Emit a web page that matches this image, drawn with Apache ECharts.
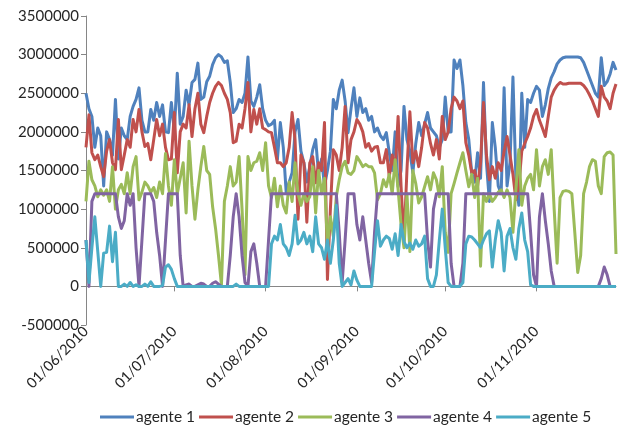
<!DOCTYPE html>
<html>
<head>
<meta charset="utf-8">
<script src="https://cdn.jsdelivr.net/npm/echarts@6/dist/echarts.min.js"></script>
<style>
html, body { margin: 0; padding: 0; background: #fff; }
#main { width: 619px; height: 429px; }
</style>
</head>
<body>
<div id="main"></div>
<script>
// one value per day, 01/06/2010 .. 28/11/2010
const firstDay = [2010, 5, 1]
const dayCount = 181

const seriesNames = ['agente 1', 'agente 2', 'agente 3', 'agente 4', 'agente 5']
const colors = ['#4F81BD', '#C0504D', '#9BBB59', '#8064A2', '#4BACC6']

const agente1 = [
    2500000, 2300000, 2200000, 1800000, 2050000, 1950000, 1300000, 2000000, 1900000, 1700000,
    2420000, 1650000, 2050000, 1950000, 1900000, 2200000, 2330000, 2420000, 2570000, 2150000,
    2000000, 2000000, 2290000, 2150000, 2380000, 2200000, 2350000, 2000000, 1990000, 2380000,
    2000000, 2760000, 2100000, 2200000, 2540000, 2350000, 2640000, 2680000, 2890000, 2420000,
    2450000, 2650000, 2720000, 2870000, 2960000, 3000000, 2970000, 2900000, 2920000, 2640000,
    2250000, 2300000, 2420000, 2380000, 2500000, 2970000, 2400000, 2330000, 2450000, 2610000,
    2300000, 2150000, 2080000, 2100000, 2150000, 1640000, 2120000, 1800000, 1210000, 1350000,
    1470000, 2000000, 2160000, 1750000, 1600000, 1350000, 1550000, 1770000, 1900000, 1450000,
    1650000, 1300000, 1500000, 1750000, 2420000, 2300000, 2540000, 2670000, 2400000, 1990000,
    2300000, 2570000, 2200000, 2440000, 2250000, 2300000, 2150000, 2200000, 2000000, 2050000,
    1950000, 1900000, 1990000, 1730000, 1500000, 2000000, 1290000, 1500000, 2330000, 1900000,
    1750000, 1470000, 1850000, 2120000, 1950000, 2100000, 2250000, 2050000, 2000000, 1950000,
    1800000, 1900000, 2450000, 2000000, 2000000, 2930000, 2820000, 2930000, 2600000, 2120000,
    1900000, 1470000, 1350000, 1730000, 1400000, 2640000, 1600000, 1100000, 2120000, 1800000,
    1300000, 1200000, 2570000, 1300000, 1600000, 2710000, 1400000, 1050000, 2500000, 1800000,
    2420000, 2380000, 2500000, 2590000, 2540000, 2200000, 2350000, 2560000, 2700000, 2780000,
    2880000, 2930000, 2960000, 2970000, 2970000, 2970000, 2970000, 2970000, 2960000, 2900000,
    2800000, 2700000, 2600000, 2500000, 2450000, 2960000, 2600000, 2650000, 2750000, 2900000,
    2800000
]
const agente2 = [
    1800000, 2220000, 1730000, 1640000, 1700000, 1550000, 1420000, 1750000, 1900000, 1600000,
    1510000, 2160000, 1510000, 1700000, 1900000, 1800000, 2160000, 2000000, 2290000, 2000000,
    1810000, 1850000, 1640000, 1900000, 2160000, 1950000, 2100000, 1800000, 1640000, 1650000,
    2250000, 1470000, 2000000, 2100000, 2050000, 2350000, 1940000, 2300000, 2500000, 2100000,
    1990000, 2200000, 2380000, 2500000, 2590000, 2640000, 2600000, 2500000, 2420000, 2250000,
    1860000, 1880000, 2100000, 2050000, 2300000, 2640000, 2000000, 2290000, 2100000, 2300000,
    2050000, 2030000, 2000000, 1990000, 1800000, 1600000, 1600000, 1550000, 1600000, 1800000,
    2250000, 1900000, 870000, 1700000, 1600000, 830000, 1600000, 1680000, 1340000, 1600000,
    1500000, 2120000, 90000, 1000000, 1770000, 1700000, 1500000, 1800000, 2330000, 1600000,
    1900000, 2000000, 2160000, 2100000, 2000000, 1800000, 1850000, 1750000, 1800000, 1810000,
    1600000, 1600000, 1770000, 1420000, 1700000, 1500000, 2200000, 1300000, 600000, 1500000,
    2260000, 1600000, 1750000, 1550000, 1800000, 2120000, 2050000, 1850000, 1700000, 1900000,
    1650000, 2200000, 1900000, 2000000, 2300000, 2450000, 2400000, 2300000, 2400000, 1860000,
    1700000, 1470000, 1500000, 1300000, 1600000, 2380000, 1700000, 1380000, 1550000, 1400000,
    1600000, 1500000, 1750000, 1940000, 1700000, 1450000, 1120000, 1300000, 1750000, 1850000,
    1940000, 2050000, 2200000, 2290000, 2150000, 2050000, 1940000, 2200000, 2450000, 2540000,
    2600000, 2640000, 2620000, 2620000, 2630000, 2630000, 2630000, 2630000, 2630000, 2600000,
    2550000, 2480000, 2400000, 2300000, 2200000, 2590000, 2450000, 2400000, 2300000, 2500000,
    2620000
]
const agente3 = [
    1100000, 1620000, 1380000, 1300000, 1160000, 1250000, 1180000, 1250000, 1100000, 1550000,
    1000000, 1250000, 1320000, 1200000, 1470000, 1200000, 1550000, 1680000, 1120000, 1220000,
    1350000, 1300000, 1220000, 1280000, 1150000, 1350000, 1200000, 1720000, 1300000, 1050000,
    1640000, 1200000, 1400000, 1600000, 950000, 1880000, 1300000, 870000, 1250000, 1550000,
    1810000, 1500000, 1450000, 1030000, 750000, 400000, 20000, 1100000, 1300000, 1550000,
    1300000, 1350000, 1680000, 1000000, 150000, 1680000, 1500000, 1600000, 1620000, 1730000,
    1500000, 1860000, 1300000, 1150000, 1400000, 1030000, 1300000, 1050000, 950000, 1350000,
    1100000, 1600000, 1200000, 1050000, 1200000, 1100000, 1160000, 1550000, 950000, 1500000,
    1200000, 1400000, 520000, 900000, 650000, 1160000, 1380000, 1550000, 1620000, 1470000,
    1450000, 1500000, 1680000, 1620000, 1550000, 1580000, 1550000, 1550000, 1470000, 1120000,
    1200000, 1380000, 1290000, 1450000, 1200000, 1640000, 1250000, 800000, 500000, 1200000,
    450000, 1500000, 1330000, 1080000, 1160000, 1290000, 1420000, 1250000, 1470000, 1380000,
    1160000, 1550000, 700000, 440000, 1200000, 1330000, 1470000, 1600000, 1730000, 1500000,
    1290000, 1450000, 1150000, 1400000, 260000, 1200000, 1100000, 1200000, 1100000, 1150000,
    1220000, 1250000, 1150000, 1250000, 1150000, 700000, 1250000, 1770000, 1050000, 1300000,
    1400000, 1450000, 1250000, 1770000, 1300000, 1550000, 1640000, 1450000, 1770000, 1000000,
    300000, 1150000, 1230000, 1240000, 1230000, 1200000, 700000, 180000, 400000, 1200000,
    1350000, 1550000, 1640000, 1620000, 1300000, 1200000, 1680000, 1730000, 1740000, 1700000,
    420000
]
const agente4 = [
    600000, 0, 1100000, 1200000, 1200000, 1200000, 1200000, 1200000, 1200000, 1200000,
    1200000, 900000, 750000, 850000, 1200000, 1050000, 1200000, 500000, 0, 600000,
    1200000, 1200000, 1200000, 1100000, 700000, 400000, 0, 600000, 1200000, 1200000,
    1200000, 1200000, 400000, 0, 20000, 30000, 0, 0, 20000, 40000,
    30000, 0, 0, 40000, 60000, 30000, 0, 0, 0, 400000,
    900000, 1200000, 900000, 400000, 50000, 0, 450000, 550000, 300000, 0,
    0, 0, 600000, 1200000, 1200000, 1200000, 1200000, 1200000, 1200000, 1200000,
    1200000, 1200000, 1200000, 1200000, 1200000, 1200000, 1200000, 1200000, 1200000, 1200000,
    1200000, 1200000, 1200000, 1200000, 1200000, 1200000, 700000, 50000, 600000, 1200000,
    1200000, 1200000, 800000, 600000, 900000, 600000, 300000, 50000, 700000, 1200000,
    1200000, 1200000, 1200000, 1200000, 1200000, 1200000, 1200000, 1200000, 1200000, 1200000,
    1200000, 1200000, 1200000, 1200000, 1200000, 1200000, 600000, 250000, 1000000, 1200000,
    1200000, 1200000, 1200000, 1200000, 300000, 0, 0, 0, 300000, 1200000,
    1200000, 1200000, 1200000, 1200000, 1200000, 1200000, 1200000, 1200000, 1200000, 1200000,
    1200000, 1200000, 1200000, 1200000, 1200000, 1200000, 1200000, 1200000, 1200000, 1200000,
    1200000, 700000, 150000, 0, 900000, 1200000, 850000, 550000, 200000, 0,
    0, 0, 0, 0, 0, 0, 0, 0, 0, 0,
    0, 0, 0, 0, 0, 100000, 250000, 150000, 0, 0,
    0
]
const agente5 = [
    600000, 50000, 500000, 900000, 450000, 0, 430000, 440000, 780000, 320000,
    700000, 0, 0, 30000, 0, 50000, 0, 20000, 0, 0,
    30000, 0, 60000, 0, 0, 0, 10000, 250000, 280000, 220000,
    100000, 0, 0, 0, 0, 0, 0, 0, 0, 0,
    0, 0, 0, 0, 0, 0, 0, 0, 0, 0,
    0, 30000, 0, 0, 0, 0, 0, 0, 0, 0,
    0, 0, 0, 550000, 650000, 600000, 800000, 550000, 500000, 400000,
    550000, 920000, 550000, 600000, 700000, 550000, 650000, 450000, 900000, 550000,
    500000, 350000, 600000, 300000, 600000, 1050000, 300000, 0, 50000, 100000,
    20000, 200000, 80000, 0, 0, 0, 0, 0, 450000, 850000,
    520000, 600000, 650000, 620000, 480000, 680000, 400000, 800000, 580000, 500000,
    560000, 480000, 600000, 520000, 550000, 650000, 100000, 0, 0, 150000,
    600000, 1000000, 500000, 50000, 0, 0, 0, 0, 50000, 550000,
    650000, 640000, 600000, 550000, 500000, 600000, 680000, 720000, 250000, 600000,
    850000, 700000, 200000, 650000, 750000, 500000, 350000, 750000, 950000, 600000,
    450000, 20000, 0, 0, 0, 0, 0, 0, 0, 0,
    0, 0, 0, 0, 0, 0, 0, 0, 0, 0,
    0, 0, 0, 0, 0, 0, 0, 0, 0, 0,
    0
]
const seriesValues = [agente1, agente2, agente3, agente4, agente5]

const yMin = -500000
const yMax = 3500000
const yStep = 500000

const pad = n => (n < 10 ? '0' : '') + n
const dates = []
for (let i = 0; i < dayCount; i++) {
    const d = new Date(firstDay[0], firstDay[1], firstDay[2] + i)
    dates.push(pad(d.getDate()) + '/' + pad(d.getMonth() + 1) + '/' + d.getFullYear())
}
const monthStart = (idx, val) => val.slice(0, 3) === '01/'

const textColor = '#262626'
const axisGray = '#868686'
const font = 'Lato'

const chart = echarts.init(document.getElementById('main'), null, { renderer: 'canvas' })

chart.setOption({
    animation: false,
    backgroundColor: '#fff',
    color: colors,
    grid: { left: 86, right: 3, top: 16, bottom: 104, containLabel: false },
    legend: {
        data: seriesNames,
        left: 100,
        bottom: 4,
        padding: 0,
        icon: 'rect',
        itemWidth: 34,
        itemHeight: 3,
        itemGap: 4,
        textStyle: { color: textColor, fontFamily: font, fontSize: 15.5, padding: [0, 0, 0, -3] }
    },
    xAxis: [
        {
            type: 'category',
            data: dates,
            boundaryGap: false,
            position: 'bottom',
            axisLine: { onZero: true, lineStyle: { color: axisGray, width: 1 } },
            axisTick: { show: true, interval: monthStart, length: 5, lineStyle: { color: axisGray } },
            axisLabel: { show: false },
            splitLine: { show: false }
        },
        {
            type: 'category',
            data: dates,
            boundaryGap: false,
            position: 'bottom',
            axisLine: { show: false, onZero: false },
            axisTick: { show: false },
            axisLabel: {
                interval: monthStart,
                rotate: 45,
                margin: 4,
                color: textColor,
                fontFamily: font,
                fontSize: 14.5
            },
            splitLine: { show: false }
        }
    ],
    yAxis: {
        type: 'value',
        min: yMin,
        max: yMax,
        interval: yStep,
        axisLine: { show: true, lineStyle: { color: axisGray, width: 1 } },
        axisTick: { show: true, length: 5, lineStyle: { color: axisGray } },
        axisLabel: {
            margin: 7,
            color: textColor,
            fontFamily: font,
            fontSize: 15,
            formatter: v => String(v)
        },
        splitLine: { show: false }
    },
    series: seriesNames.map((name, i) => ({
        name: name,
        type: 'line',
        xAxisIndex: 0,
        data: seriesValues[i],
        showSymbol: false,
        symbol: 'none',
        smooth: false,
        lineStyle: { width: 3, color: colors[i], join: 'round' },
        itemStyle: { color: colors[i] }
    }))
})
</script>
</body>
</html>
